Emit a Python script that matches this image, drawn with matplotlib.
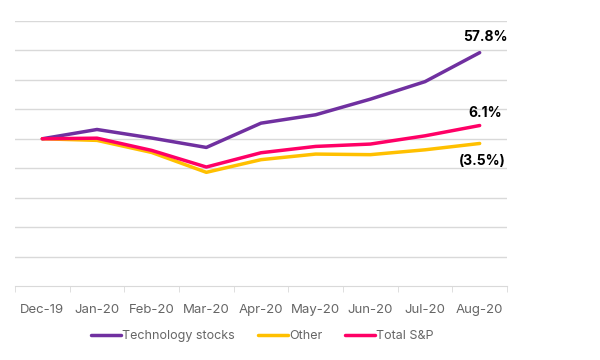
import matplotlib.pyplot as plt

months = ["Dec-19", "Jan-20", "Feb-20", "Mar-20", "Apr-20", "May-20", "Jun-20", "Jul-20", "Aug-20"]
tech = [0, 6.3, 0.5, -5.9, 10.6, 16.3, 26.9, 38.8, 58.5]
other = [0, -1.1, -9.3, -22.8, -14.2, -10.4, -10.8, -7.5, -3.2]
total = [0, 0.4, -7.9, -19.2, -9.5, -5.2, -3.6, 2.0, 9.0]
end_labels = ["57.8%", "6.1%", "(3.5%)"]

purple = "#7030A0"
yellow = "#FFC000"
pink = "#FF0066"

plt.rcParams['font.family'] = ['Inter', 'DejaVu Sans']

fig = plt.figure(figsize=(6, 3.6), dpi=100)
ax = fig.add_axes([0.025, 0.2056, 0.82, 0.7361])

x = list(range(len(months)))
ax.plot(x, tech, color=purple, lw=2.5, label="Technology stocks", solid_capstyle="round")
ax.plot(x, other, color=yellow, lw=2.5, label="Other", solid_capstyle="round")
ax.plot(x, total, color=pink, lw=2.5, label="Total S&P", solid_capstyle="round")

ax.set_xlim(-0.5, len(months) - 0.5)
ax.set_ylim(-100, 80)
ax.set_yticks(range(-80, 81, 20))
ax.yaxis.grid(True, color="#d9d9d9", lw=1)
ax.set_axisbelow(True)
ax.tick_params(axis="y", left=False, labelleft=False)

ax.set_xticks(x)
ax.set_xticklabels(months, color="#666666", fontsize=9.5)
ax.set_xticks([i - 0.5 for i in range(len(months) + 1)], minor=True)
ax.tick_params(axis="x", which="major", length=0, pad=13)
ax.tick_params(axis="x", which="minor", length=4, color="#d9d9d9", direction="out")

for s in ["top", "right", "left"]:
    ax.spines[s].set_visible(False)
ax.spines["bottom"].set_color("#d9d9d9")

ax.text(8.1, tech[-1] + 10.5, end_labels[0], fontsize=10, fontweight="bold", ha="center", va="center")
ax.text(8.1, total[-1] + 8.5, end_labels[1], fontsize=10, fontweight="bold", ha="center", va="center")
ax.text(8.05, other[-1] - 12, end_labels[2], fontsize=10, fontweight="bold", ha="center", va="center")

fig.legend(loc="center", bbox_to_anchor=(0.437, 0.067), ncol=3, frameon=False,
           fontsize=9, handlelength=2.4, handletextpad=0.1, columnspacing=1.8,
           labelcolor="#666666")

fig.savefig("out.png", dpi=100)
